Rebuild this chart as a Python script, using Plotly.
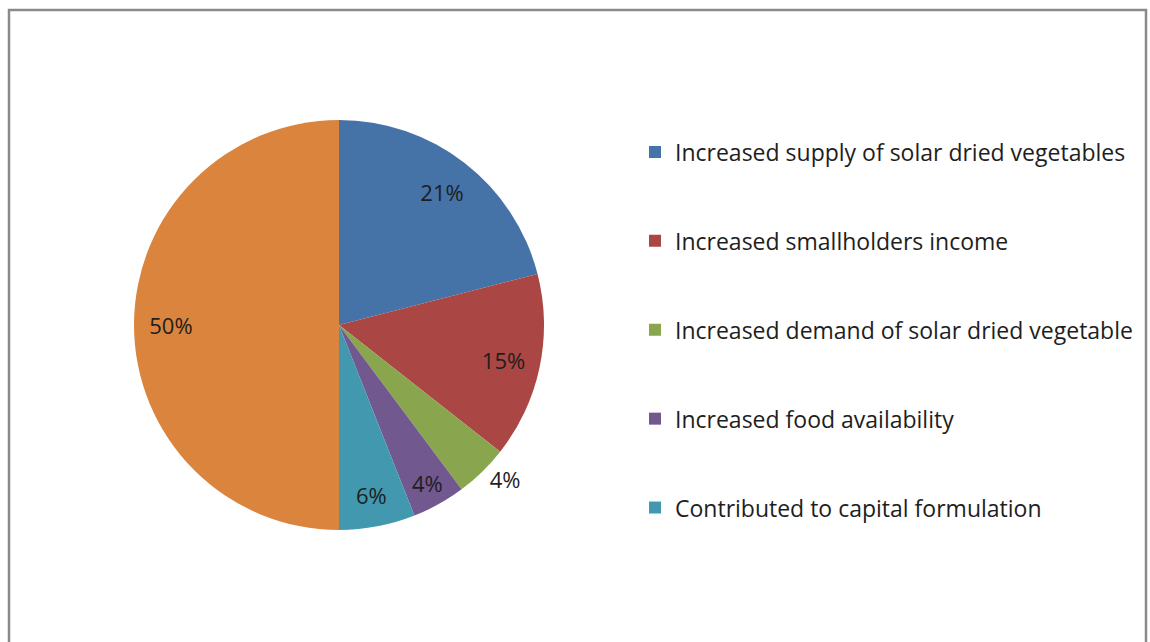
import plotly.graph_objects as go

categories = [
    "Increased supply of solar dried vegetables",
    "Increased smallholders income",
    "Increased demand of solar dried vegetable",
    "Increased food availability",
    "Contributed to capital formulation",
    "",
]
values = [21.0, 14.6, 4.2, 4.2, 6.0, 50.0]
colors = ["#4572A7", "#AA4643", "#89A54E", "#71588F", "#4198AF", "#DB843D"]
text_pos = ["inside", "inside", "outside", "inside", "inside", "inside"]

W, H = 1150, 642
cx, cy, r = 339, 325, 205
dom = dict(x=[(cx - r) / W, (cx + r) / W], y=[1 - (cy + r) / H, 1 - (cy - r) / H])
labels = [c if c else "Other" for c in categories]

fig = go.Figure()
fig.add_trace(go.Pie(
    labels=labels, values=values, sort=False, direction="clockwise", rotation=0,
    marker=dict(colors=colors, line=dict(width=0)),
    textinfo="none", showlegend=False, domain=dom,
    hoverinfo="label+percent",
))
# transparent ring carrying the percentage labels (placed like Excel's labels)
fig.add_trace(go.Pie(
    labels=labels, values=values, sort=False, direction="clockwise", rotation=0,
    hole=0.64,
    marker=dict(colors=["rgba(0,0,0,0)"] * 6, line=dict(width=0)),
    textinfo="percent", texttemplate="%{percent:.0%}",
    textposition=text_pos, insidetextorientation="horizontal",
    textfont=dict(family="Open Sans", size=22, color="#1e1e1e"),
    showlegend=False, domain=dom, hoverinfo="skip",
))

for i, (name, col) in enumerate(zip(categories[:5], colors[:5])):
    fig.add_trace(go.Scatter(
        x=[None], y=[None], mode="markers", name=name,
        marker=dict(symbol="square", size=12, color=col),
        legendgroup=f"g{i}", showlegend=True,
    ))

fig.update_layout(
    width=W, height=H,
    margin=dict(l=0, r=0, t=0, b=0),
    paper_bgcolor="white", plot_bgcolor="white",
    xaxis=dict(visible=False), yaxis=dict(visible=False),
    legend=dict(
        x=635 / W, xanchor="left", y=1 - 130.5 / H, yanchor="top",
        font=dict(family="Open Sans", size=23, color="#1e1e1e"),
        tracegroupgap=56, itemsizing="trace",
        bgcolor="rgba(0,0,0,0)",
    ),
    shapes=[dict(
        type="rect", xref="paper", yref="paper",
        x0=9 / W, x1=1146 / W, y0=-0.05, y1=1 - 10 / H,
        line=dict(color="#8A8A8A", width=2.5), fillcolor="rgba(0,0,0,0)",
        layer="below",
    )],
)

fig.write_html("out.html")
